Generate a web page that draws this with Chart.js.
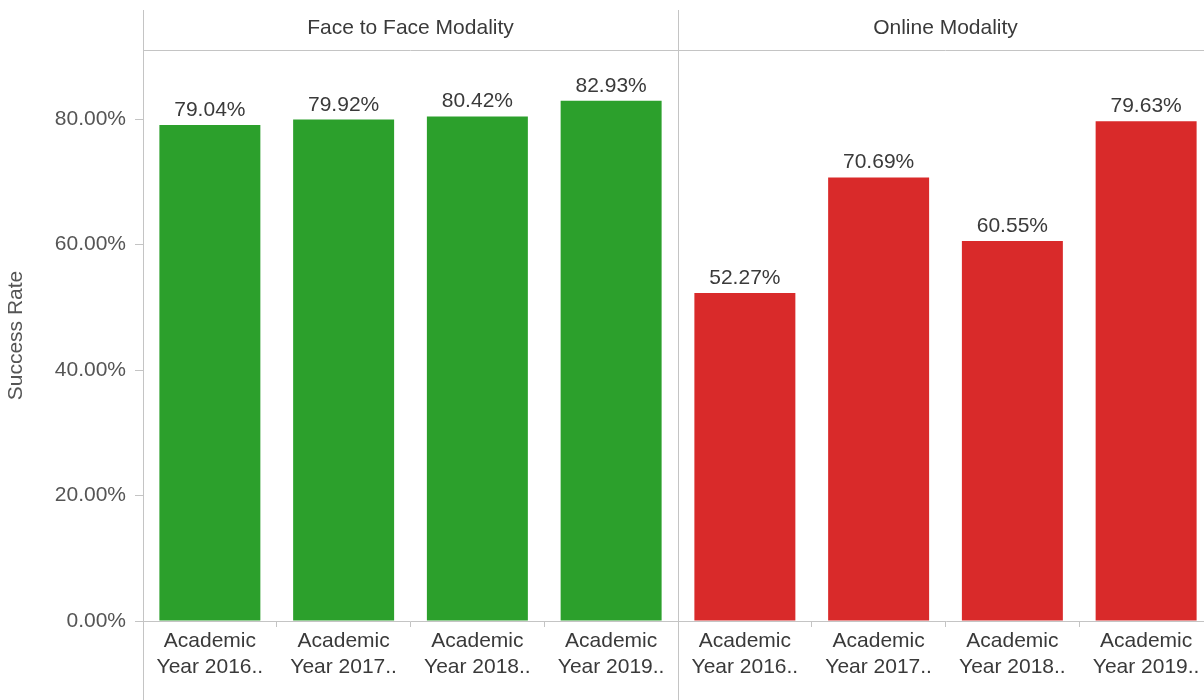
<!DOCTYPE html>
<html>
<head>
<meta charset="utf-8">
<script src="https://cdn.jsdelivr.net/npm/chart.js@4.4.1/dist/chart.umd.min.js"></script>
<style>
  html, body { margin: 0; padding: 0; background: #fff; overflow: hidden; }
  #wrap { width: 1213px; height: 700px; }
</style>
</head>
<body>
<div id="wrap"><canvas id="rateChart" width="1213" height="700"></canvas></div>
<script>
// categories per panel
var years = ["Year 2016..", "Year 2017..", "Year 2018..", "Year 2019.."];
var panels = ["Face to Face Modality", "Online Modality"];
// success rate (%)
var faceToFace = [79.04, 79.92, 80.42, 82.93];
var online = [52.27, 70.69, 60.55, 79.63];
var yTicks = [0, 20, 40, 60, 80];

var FONT = "'Liberation Sans', Arial, sans-serif";
var LINE = "#c4c4c4";

var labels = years.concat(years).map(function (y) { return ["Academic", y]; });
var pad = [null, null, null, null];

// panel headers, panel borders and value labels
var panelPlugin = {
  id: "panels",
  afterDraw: function (chart) {
    var c = chart.ctx;
    var area = chart.chartArea;
    var x = chart.scales.x;
    var divider = (x.getPixelForValue(3) + x.getPixelForValue(4)) / 2;

    c.save();
    c.strokeStyle = LINE;
    c.lineWidth = 1;
    c.beginPath();
    c.moveTo(area.left + 0.5, 10);
    c.lineTo(area.left + 0.5, chart.height);
    c.moveTo(Math.round(divider) + 0.5, 10);
    c.lineTo(Math.round(divider) + 0.5, chart.height);
    c.moveTo(area.left, area.top + 0.5);
    c.lineTo(chart.width, area.top + 0.5);
    c.stroke();

    c.fillStyle = "#3a3a3a";
    c.font = "21px " + FONT;
    c.textAlign = "center";
    c.textBaseline = "middle";
    c.fillText(panels[0], (area.left + divider) / 2, 28);
    c.fillText(panels[1], (divider + area.right) / 2, 28);

    c.textBaseline = "alphabetic";
    chart.data.datasets.forEach(function (ds, i) {
      chart.getDatasetMeta(i).data.forEach(function (bar, j) {
        var v = ds.data[j];
        if (v == null) return;
        c.fillText(v.toFixed(2) + "%", bar.x, bar.y - 9);
      });
    });
    c.restore();
  },
};

new Chart(document.getElementById("rateChart").getContext("2d"), {
  type: "bar",
  data: {
    labels: labels,
    datasets: [
      {
        label: panels[0],
        data: faceToFace.concat(pad),
        backgroundColor: "#2ca02c",
      },
      {
        label: panels[1],
        data: pad.concat(online),
        backgroundColor: "#d92a2a",
      },
    ],
  },
  options: {
    responsive: false,
    animation: false,
    grouped: false,
    categoryPercentage: 1,
    barPercentage: 0.755,
    layout: { padding: { top: 50, left: 0, right: 0, bottom: 0 } },
    scales: {
      x: {
        afterFit: function (s) { s.height = 79; },
        grid: {
          offset: true,
          drawOnChartArea: false,
          tickLength: 6,
          color: LINE,
        },
        border: { color: LINE },
        ticks: {
          color: "#3a3a3a",
          padding: 2,
          maxRotation: 0,
          autoSkip: false,
          font: { family: FONT, size: 21 },
        },
      },
      y: {
        min: 0,
        max: 91,
        afterFit: function (s) { s.width = 143; },
        afterBuildTicks: function (s) {
          s.ticks = yTicks.map(function (v) { return { value: v }; });
        },
        grid: {
          drawOnChartArea: false,
          tickLength: 8,
          color: LINE,
        },
        border: { display: false },
        ticks: {
          color: "#555",
          padding: 9,
          font: { family: FONT, size: 21 },
          callback: function (v) { return v.toFixed(2) + "%"; },
        },
        title: {
          display: true,
          text: "Success Rate",
          color: "#555",
          padding: { top: 4, bottom: 0 },
          font: { family: FONT, size: 21 },
        },
      },
    },
    plugins: {
      legend: { display: false },
      tooltip: { enabled: false },
    },
  },
  plugins: [panelPlugin],
});
</script>
</body>
</html>
